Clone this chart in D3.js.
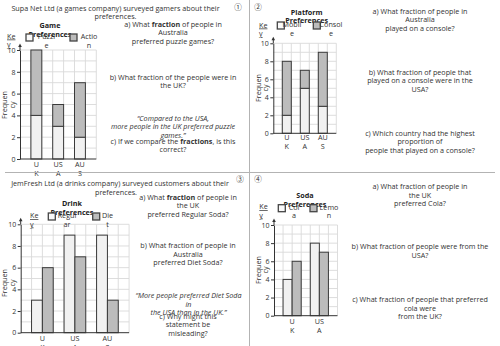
<!DOCTYPE html>
<html>
<head>
<meta charset="utf-8">
<script src="https://cdn.jsdelivr.net/npm/d3@7"></script>
<style>
  body { margin: 0; background: #fff; }
  text { font-family: "Open Sans", "Noto Sans", sans-serif; fill: #333; }
</style>
</head>
<body>
<script>
// chart values
const countries3 = ['UK', 'USA', 'AUS'];
const countries2 = ['UK', 'USA'];
const puzzle = [4, 3, 2];
const action = [6, 2, 5];
const mobile = [2, 5, 3];
const consoleGames = [6, 2, 6];
const regular = [3, 9, 9];
const diet = [6, 7, 3];
const cola = [4, 8];
const lemon = [6, 7];
const yTicks = [0, 2, 4, 6, 8, 10];
const countryLines = { UK: ['U', 'K'], USA: ['US', 'A'], AUS: ['AU', 'S'] };

const light = '#f1f1f1', dark = '#bcbcbc';
const FS = 7.2, LH = 8.7;

const svg = d3.select('body').append('svg').attr('width', 500).attr('height', 346);

// lines may contain **bold** or are italic as a whole block
function textBlock(lines, x, y, opt = {}) {
    const t = svg.append('text').attr('x', x).attr('y', y)
        .attr('text-anchor', opt.anchor || 'middle')
        .style('font-size', (opt.size || FS) + 'px')
        .style('font-style', opt.italic ? 'italic' : 'normal')
        .style('font-weight', opt.bold ? 'bold' : 'normal');
    if (opt.fill) t.style('fill', opt.fill);
    if (opt.underline) t.style('text-decoration', 'underline');
    lines.forEach((line, i) => {
        const parts = line.split('**');
        parts.forEach((p, k) => {
            const ts = t.append('tspan').text(p);
            if (k === 0) ts.attr('x', x).attr('dy', i === 0 ? 0 : (opt.lh || LH));
            if (k % 2 === 1) ts.style('font-weight', 'bold');
        });
    });
    return t;
}

function drawChart(c) {
    const g = svg.append('g');
    const unit = (c.y0 - c.yTop) / 10;
    const x1 = c.x0 + c.cols * unit;
    const y = d3.scaleLinear().domain([0, 10]).range([c.y0, c.yTop]);
    const xg = d3.scaleLinear().domain([0, c.cols]).range([c.x0, x1]);

    g.selectAll('line.hg').data(d3.range(1, 11)).join('line').attr('class', 'hg')
        .attr('x1', c.x0).attr('x2', x1).attr('y1', d => y(d)).attr('y2', d => y(d))
        .attr('stroke', '#d9d9d9').attr('stroke-width', 0.9);
    g.selectAll('line.vg').data(d3.range(1, c.cols + 1)).join('line').attr('class', 'vg')
        .attr('x1', d => xg(d)).attr('x2', d => xg(d)).attr('y1', y(0)).attr('y2', y(10))
        .attr('stroke', '#d9d9d9').attr('stroke-width', 0.9);

    const pad = c.mode === 'stack' ? 0.5 : 1 / 3;
    const x = d3.scaleBand().domain(c.categories).range([c.x0, x1])
        .paddingInner(pad).paddingOuter(pad);

    const rows = c.categories.map((cat, i) => {
        const r = { cat };
        c.series.forEach((s, j) => r['s' + j] = s.values[i]);
        return r;
    });
    const keys = c.series.map((s, j) => 's' + j);

    if (c.mode === 'stack') {
        const stacked = d3.stack().keys(keys)(rows);
        g.selectAll('g.layer').data(stacked).join('g').attr('class', 'layer')
            .attr('fill', (d, j) => c.series[j].fill)
            .selectAll('rect').data(d => d).join('rect')
            .attr('x', d => x(d.data.cat))
            .attr('y', d => y(d[1]))
            .attr('width', x.bandwidth())
            .attr('height', d => y(d[0]) - y(d[1]))
            .attr('stroke', '#3a3a3a').attr('stroke-width', 1);
    } else {
        const xi = d3.scaleBand().domain(keys).range([0, x.bandwidth()]);
        g.selectAll('g.grp').data(rows).join('g').attr('class', 'grp')
            .attr('transform', d => `translate(${x(d.cat)},0)`)
            .selectAll('rect').data(d => keys.map((k, j) => ({ k, j, v: d[k] }))).join('rect')
            .attr('x', d => xi(d.k))
            .attr('y', d => y(d.v))
            .attr('width', xi.bandwidth())
            .attr('height', d => y(0) - y(d.v))
            .attr('fill', d => c.series[d.j].fill)
            .attr('stroke', '#3a3a3a').attr('stroke-width', 1);
    }

    // y axis
    const ya = g.append('g').attr('transform', `translate(${c.x0},0)`)
        .call(d3.axisLeft(y).tickValues(yTicks).tickSize(3).tickSizeOuter(0).tickPadding(1.5));
    ya.select('.domain').attr('stroke', '#333');
    ya.selectAll('.tick line').attr('stroke', '#333');
    ya.selectAll('.tick text').style('font-size', '7px').style('fill', '#333')
        .style('font-family', '"Open Sans", sans-serif');
    g.append('line').attr('x1', c.x0).attr('x2', c.x0).attr('y1', y(10)).attr('y2', y(10) - 4)
        .attr('stroke', '#333');
    g.append('path')
        .attr('d', `M${c.x0},${y(10) - 6.5}L${c.x0 - 1.8},${y(10) - 3}L${c.x0 + 1.8},${y(10) - 3}Z`)
        .attr('fill', '#333');

    // x axis
    g.append('line').attr('x1', c.x0).attr('x2', x1).attr('y1', y(0)).attr('y2', y(0))
        .attr('stroke', '#333').attr('stroke-width', 1);
    c.categories.forEach(cat => {
        textBlock(countryLines[cat], x(cat) + x.bandwidth() / 2, c.xLabelY, { lh: 9 });
    });

    // y label
    const yl = svg.append('text')
        .attr('transform', `translate(${c.yLabel[0]},${c.yLabel[1]}) rotate(-90)`)
        .attr('text-anchor', 'middle').style('font-size', FS + 'px');
    yl.append('tspan').attr('x', 0).attr('dy', 0).text('Frequen');
    yl.append('tspan').attr('x', 0).attr('dy', 7.5).text('cy');

    // title, key, legend
    textBlock(c.title, c.titlePos[0], c.titlePos[1], { bold: true, fill: '#222', lh: 8.5 });
    textBlock(['Ke', 'y'], c.keyPos[0], c.keyPos[1], { anchor: 'start', underline: true, lh: 8.5 });
    c.series.forEach((s, j) => {
        const b = c.boxes[j];
        svg.append('rect').attr('x', b[0]).attr('y', b[1]).attr('width', 7).attr('height', 7)
            .attr('fill', s.fill === light ? '#fafafa' : s.fill)
            .attr('stroke', '#444').attr('stroke-width', 1.3);
        textBlock(s.lines, b[2], b[1] + 5, { lh: 8.7 });
    });
}

// quadrant 1
textBlock(['Supa Net Ltd (a games company) surveyed gamers about their', 'preferences.'], 115.5, 10.5);
drawChart({
    mode: 'stack', x0: 20, y0: 159, yTop: 50, cols: 7, categories: countries3,
    series: [{ values: puzzle, fill: light, lines: ['Puzzl', 'e'] },
             { values: action, fill: dark, lines: ['Actio', 'n'] }],
    title: ['Game', 'Preferences'], titlePos: [50, 28],
    keyPos: [7, 38.5], boxes: [[26, 34, 46.5], [70, 34, 89]],
    yLabel: [7, 105], xLabelY: 166.5
});
textBlock(['a) What **fraction** of people in', 'Australia', 'preferred puzzle games?'], 173, 26.5);
textBlock(['b) What fraction of the people were in', 'the UK?'], 173, 79.5);
textBlock(['\u201cCompared to the USA,', 'more people in the UK preferred puzzle', 'games.\u201d'], 173, 120.5, { italic: true });
textBlock(['c) If we compare the **fractions**, is this', 'correct?'], 173, 143.5);

// quadrant 2
drawChart({
    mode: 'stack', x0: 273.3, y0: 133.3, yTop: 43.3, cols: 7, categories: countries3,
    series: [{ values: mobile, fill: light, lines: ['Mobil', 'e'] },
             { values: consoleGames, fill: dark, lines: ['Consol', 'e'] }],
    title: ['Platform', 'Preferences'], titlePos: [306.7, 14.5],
    keyPos: [259, 27.5], boxes: [[277.3, 22, 292], [313.3, 22, 331]],
    yLabel: [260.5, 88], xLabelY: 139.5
});
textBlock(['a) What fraction of people in', 'Australia', 'played on a console?'], 420, 13.5);
textBlock(['b) What fraction of people that', 'played on a console were in the', 'USA?'], 420, 74.5);
textBlock(['c) Which country had the highest', 'proportion of', 'people that played on a console?'], 420, 135.5);

// quadrant 3
textBlock(['JemFresh Ltd (a drinks company) surveyed customers about their'], 120, 185.5);
textBlock(['preferences.'], 116, 194.5);
drawChart({
    mode: 'group', x0: 20.7, y0: 332.7, yTop: 224.3, cols: 10, categories: countries3,
    series: [{ values: regular, fill: light, lines: ['Regul', 'ar'] },
             { values: diet, fill: dark, lines: ['Die', 't'] }],
    title: ['Drink', 'Preferences'], titlePos: [72, 206],
    keyPos: [30, 218], boxes: [[48.3, 213, 67], [92.7, 213, 107.5]],
    yLabel: [7, 283], xLabelY: 341
});
textBlock(['a) What **fraction** of people in', 'the UK', 'preferred Regular Soda?'], 188, 199.5);
textBlock(['b) What fraction of people in', 'Australia', 'preferred Diet Soda?'], 188, 248);
textBlock(['\u201cMore people preferred Diet Soda', 'in', 'the USA than in the UK.\u201d'], 188.5, 298, { italic: true });
textBlock(['c) Why might this', 'statement be', 'misleading?'], 188, 318.5);

// quadrant 4
drawChart({
    mode: 'group', x0: 274, y0: 315.7, yTop: 225, cols: 7, categories: countries2,
    series: [{ values: cola, fill: light, lines: ['Col', 'a'] },
             { values: lemon, fill: dark, lines: ['Lemo', 'n'] }],
    title: ['Soda', 'Preferences'], titlePos: [305, 198],
    keyPos: [259.3, 209], boxes: [[278.3, 204.7, 294], [310, 204.7, 329]],
    yLabel: [260.5, 270], xLabelY: 324
});
textBlock(['a) What fraction of people in', 'the UK', 'preferred Cola?'], 420, 189);
textBlock(['b) What fraction of people were from the', 'USA?'], 420, 249);
textBlock(['c) What fraction of people that preferred', 'cola were', 'from the UK?'], 420, 302);

// circled numbers
[['\u2460', 238, 9.5], ['\u2461', 258, 9.5], ['\u2462', 240, 181.5], ['\u2463', 258, 181.5]].forEach(d => {
    svg.append('text').attr('x', d[1]).attr('y', d[2]).attr('text-anchor', 'middle')
        .style('font-family', '"Noto Sans CJK SC", "DejaVu Sans", sans-serif')
        .style('font-size', '7.5px').text(d[0]);
});

// dividers
svg.append('line').attr('x1', 5).attr('x2', 495).attr('y1', 172.5).attr('y2', 172.5)
    .attr('stroke', '#b3b3b3').attr('stroke-width', 1);
svg.append('line').attr('x1', 249.5).attr('x2', 249.5).attr('y1', 0).attr('y2', 346)
    .attr('stroke', '#b3b3b3').attr('stroke-width', 1);
</script>
</body>
</html>
